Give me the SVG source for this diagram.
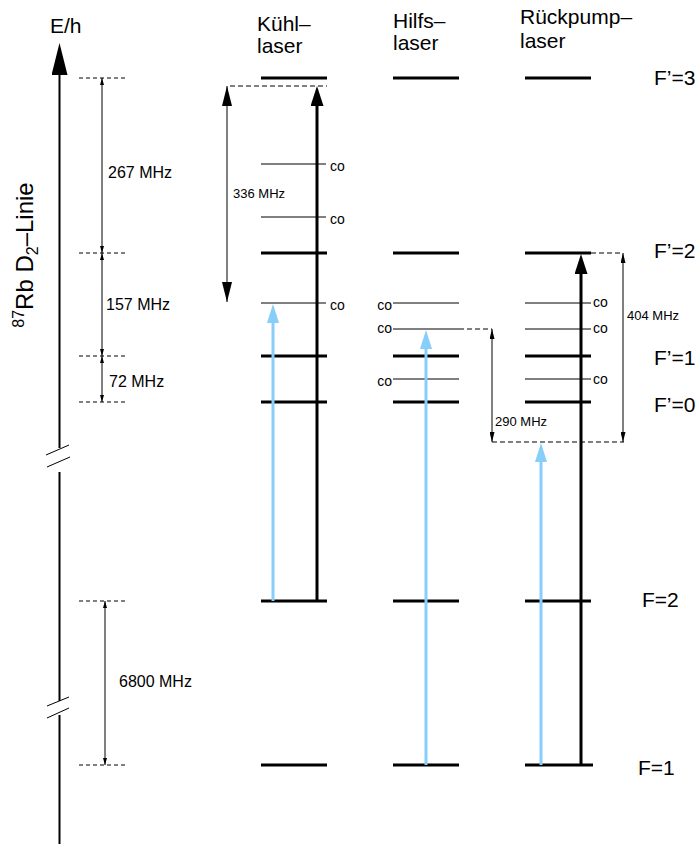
<svg xmlns="http://www.w3.org/2000/svg" width="698" height="844" viewBox="0 0 698 844">
<defs>
<style>
text{font-family:"Liberation Sans",Arial,Helvetica,sans-serif;fill:#000}
.lbl{font-size:21px}
.dim{font-size:16px}
.sm{font-size:13px}
.co{font-size:14px}
.lvl{stroke:#000;stroke-width:3;fill:none}
.thin{stroke:#000;stroke-width:1;fill:none}
.dash{stroke:#000;stroke-width:1;fill:none;stroke-dasharray:4 3}
.dash2{stroke:#000;stroke-width:1;fill:none;stroke-dasharray:5 3}
.beam{stroke:#000;stroke-width:3;fill:none}
.blue{stroke:#87CEFA;stroke-width:3;fill:none}
</style>
<marker id="ahBlack" markerUnits="userSpaceOnUse" markerWidth="20" markerHeight="13" refX="0" refY="6.5" orient="auto" viewBox="0 0 20 13"><path d="M0,0 L20,6.5 L0,13 z" fill="#000"/></marker>
<marker id="ahBlue" markerUnits="userSpaceOnUse" markerWidth="19" markerHeight="12" refX="0" refY="6" orient="auto" viewBox="0 0 19 12"><path d="M0,0 L19,6 L0,12 z" fill="#87CEFA"/></marker>
<marker id="ahAxis" markerUnits="userSpaceOnUse" markerWidth="32" markerHeight="16" refX="0" refY="8" orient="auto" viewBox="0 0 32 16"><path d="M0,0 L32,8 L0,16 z" fill="#000"/></marker>
<marker id="ahMid" markerUnits="userSpaceOnUse" markerWidth="20" markerHeight="10" refX="20" refY="5" orient="auto-start-reverse" viewBox="0 0 20 10"><path d="M0,0 L20,5 L0,10 z" fill="#000"/></marker>
<marker id="ahSm" markerUnits="userSpaceOnUse" markerWidth="7" markerHeight="4" refX="7" refY="2" orient="auto-start-reverse" viewBox="0 0 7 4"><path d="M0,0 L7,2 L0,4 z" fill="#000"/></marker>
<marker id="ahSm2" markerUnits="userSpaceOnUse" markerWidth="10" markerHeight="5" refX="10" refY="2.5" orient="auto-start-reverse" viewBox="0 0 10 5"><path d="M0,0 L10,2.5 L0,5 z" fill="#000"/></marker>
</defs>

<g id="axis">
<line x1="59.5" y1="844" x2="59.5" y2="715" class="thin" style="stroke-width:2"/>
<line x1="59.5" y1="701" x2="59.5" y2="472" class="thin" style="stroke-width:2"/>
<line x1="59.5" y1="448" x2="59.5" y2="75" class="thin" style="stroke-width:2" marker-end="url(#ahAxis)"/>
<line x1="46" y1="455" x2="69" y2="445" class="thin"/>
<line x1="47" y1="467" x2="70" y2="457" class="thin"/>
<line x1="47" y1="706" x2="69" y2="697" class="thin"/>
<line x1="47" y1="718" x2="69" y2="708" class="thin"/>
<text x="50" y="33" class="lbl">E/h</text>
<text transform="translate(33,255) rotate(-90)" text-anchor="middle" style="font-size:24px"><tspan font-size="16" dy="-9">87</tspan><tspan dy="9">Rb D</tspan><tspan font-size="16" dy="5">2</tspan><tspan dy="-5">–Linie</tspan></text>
</g>

<g id="reference-scale">
<line x1="79" y1="78" x2="128" y2="78" class="dash"/>
<line x1="79" y1="253" x2="128" y2="253" class="dash"/>
<line x1="79" y1="356" x2="128" y2="356" class="dash"/>
<line x1="79" y1="402" x2="128" y2="402" class="dash"/>
<line x1="79" y1="601" x2="128" y2="601" class="dash"/>
<line x1="79" y1="765" x2="128" y2="765" class="dash"/>
<line x1="102" y1="78" x2="102" y2="253" class="thin" marker-start="url(#ahSm)" marker-end="url(#ahSm)"/>
<line x1="102" y1="253" x2="102" y2="356" class="thin" marker-start="url(#ahSm)" marker-end="url(#ahSm)"/>
<line x1="102" y1="356" x2="102" y2="402" class="thin" marker-start="url(#ahSm)" marker-end="url(#ahSm)"/>
<line x1="105" y1="601" x2="105" y2="765" class="thin" marker-start="url(#ahSm)" marker-end="url(#ahSm)"/>
<text x="108" y="178" class="dim">267 MHz</text>
<text x="106" y="310" class="dim">157 MHz</text>
<text x="109" y="387" class="dim">72 MHz</text>
<text x="119" y="687" class="dim">6800 MHz</text>
</g>

<g id="kuehllaser">
<text x="257" y="31" class="lbl">Kühl–</text>
<text x="257" y="53" class="lbl">laser</text>
<line x1="261" y1="78" x2="327" y2="78" class="lvl"/>
<line x1="261" y1="253" x2="327" y2="253" class="lvl"/>
<line x1="261" y1="356" x2="327" y2="356" class="lvl"/>
<line x1="261" y1="402" x2="327" y2="402" class="lvl"/>
<line x1="261" y1="601" x2="327" y2="601" class="lvl"/>
<line x1="261" y1="765" x2="327" y2="765" class="lvl"/>
<line x1="261" y1="164" x2="326" y2="164" class="thin"/>
<line x1="261" y1="217" x2="326" y2="217" class="thin"/>
<line x1="261" y1="303" x2="326" y2="303" class="thin"/>
<text x="330" y="171" class="co">co</text>
<text x="330" y="224" class="co">co</text>
<text x="330" y="310" class="co">co</text>
</g>

<g id="hilfslaser">
<text x="393" y="28" class="lbl">Hilfs–</text>
<text x="393" y="50" class="lbl">laser</text>
<line x1="393" y1="78" x2="459" y2="78" class="lvl"/>
<line x1="393" y1="253" x2="459" y2="253" class="lvl"/>
<line x1="393" y1="356" x2="459" y2="356" class="lvl"/>
<line x1="393" y1="402" x2="459" y2="402" class="lvl"/>
<line x1="393" y1="601" x2="459" y2="601" class="lvl"/>
<line x1="393" y1="765" x2="459" y2="765" class="lvl"/>
<line x1="393" y1="303" x2="459" y2="303" class="thin"/>
<line x1="393" y1="329" x2="459" y2="329" class="thin"/>
<line x1="393" y1="379" x2="459" y2="379" class="thin"/>
<text x="392" y="310" class="co" text-anchor="end">co</text>
<text x="392" y="333" class="co" text-anchor="end">co</text>
<text x="392" y="386" class="co" text-anchor="end">co</text>
</g>

<g id="rueckpumplaser">
<text x="520" y="24" class="lbl">Rückpump–</text>
<text x="520" y="48" class="lbl">laser</text>
<line x1="525" y1="78" x2="591" y2="78" class="lvl"/>
<line x1="525" y1="253" x2="591" y2="253" class="lvl"/>
<line x1="525" y1="356" x2="591" y2="356" class="lvl"/>
<line x1="525" y1="402" x2="591" y2="402" class="lvl"/>
<line x1="525" y1="601" x2="591" y2="601" class="lvl"/>
<line x1="525" y1="765" x2="593" y2="765" class="lvl"/>
<line x1="525" y1="303" x2="591" y2="303" class="thin"/>
<line x1="525" y1="329" x2="591" y2="329" class="thin"/>
<line x1="525" y1="379" x2="591" y2="379" class="thin"/>
<text x="593" y="307" class="co">co</text>
<text x="593" y="333" class="co">co</text>
<text x="593" y="384" class="co">co</text>
</g>

<g id="level-labels">
<text x="654" y="85" class="lbl">F’=3</text>
<text x="654" y="258" class="lbl">F’=2</text>
<text x="654" y="365" class="lbl">F’=1</text>
<text x="654" y="412" class="lbl">F’=0</text>
<text x="642" y="607" class="lbl">F=2</text>
<text x="638" y="775" class="lbl">F=1</text>
</g>

<g id="connectors">
<line x1="317" y1="601" x2="317" y2="106" class="beam" marker-end="url(#ahBlack)"/>
<line x1="273" y1="601" x2="273" y2="323" class="blue" marker-end="url(#ahBlue)"/>
<line x1="426" y1="765" x2="426" y2="349" class="blue" marker-end="url(#ahBlue)"/>
<line x1="541" y1="765" x2="541" y2="462" class="blue" marker-end="url(#ahBlue)"/>
<line x1="581" y1="765" x2="581" y2="274" class="beam" marker-end="url(#ahBlack)"/>
<line x1="230" y1="86" x2="327" y2="86" class="dash2"/>
<line x1="227" y1="86" x2="227" y2="302" class="thin" marker-start="url(#ahMid)" marker-end="url(#ahMid)"/>
<text x="233" y="198" class="sm">336 MHz</text>
<line x1="459" y1="329" x2="492" y2="329" class="dash2"/>
<line x1="492" y1="442" x2="624" y2="442" class="dash2"/>
<line x1="591" y1="253" x2="623" y2="253" class="dash2"/>
<line x1="492" y1="329" x2="492" y2="442" class="thin" marker-start="url(#ahSm2)" marker-end="url(#ahSm2)"/>
<line x1="623" y1="253" x2="623" y2="442" class="thin" marker-start="url(#ahSm2)" marker-end="url(#ahSm2)"/>
<text x="495" y="426" class="sm">290 MHz</text>
<text x="627" y="320" class="sm">404 MHz</text>
</g>
</svg>
